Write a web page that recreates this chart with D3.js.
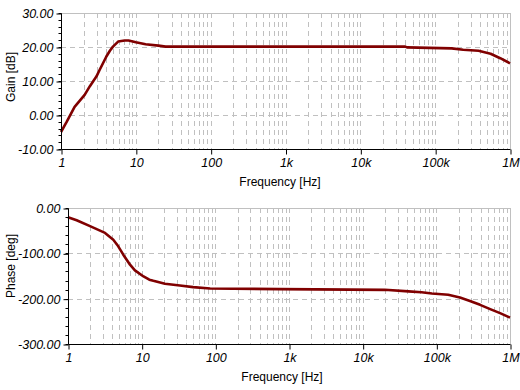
<!DOCTYPE html>
<html><head><meta charset="utf-8">
<script src="https://cdn.jsdelivr.net/npm/d3@7"></script>
<style>
body{margin:0;background:#fff;}
svg{display:block;}
text{font-family:"Liberation Sans",Arial,sans-serif;fill:#000;}
</style></head>
<body><svg id="c" width="520" height="390"></svg>
<script>
const xTickValues = [1, 10, 100, 1e3, 1e4, 1e5, 1e6];
const xTickLabels = ["1", "10", "100", "1k", "10k", "100k", "1M"];
const gainTicks = [-10, 0, 10, 20, 30];
const phaseTicks = [-300, -200, -100, 0];

const gainFreq = [1, 1.18, 1.52, 2.07, 2.42, 2.97, 3.29, 4.04, 4.5, 4.95, 5.8, 7.1, 8, 10, 13.5, 20, 25, 1e3, 4e4, 4.2e4, 1.66e5, 2.37e5, 3.8e5, 5.5e5, 7.4e5, 1e6];
const gainDb =   [-5.0, -2.2, 2.4, 5.9, 8.4, 11.3, 13.3, 17.2, 18.9, 20.1, 21.6, 21.9, 21.9, 21.4, 20.8, 20.4, 20.1, 20.1, 20.1, 19.9, 19.6, 19.2, 18.9, 18.0, 16.7, 15.2];

const phaseFreq = [1, 1.31, 1.99, 3.18, 4.12, 4.81, 5.63, 6.95, 8.1, 10.6, 12.7, 14.4, 20.7, 33, 50, 85, 755, 2e4, 4.18e4, 6.3e4, 8.7e4, 1.45e5, 2.09e5, 2.86e5, 3.93e5, 5.38e5, 7.33e5, 1e6];
const phaseDeg =  [-20.4, -27, -40, -55, -70, -84.5, -103, -125, -137.7, -151, -158, -160.5, -167, -171, -174.5, -177.5, -179, -180.5, -184, -186, -188.5, -191.5, -197.5, -205, -213.6, -223, -232, -241.8];

const svg = d3.select("#c");
const gridColor = "#c0c0c0";
const lineColor = "#800000";

function panel(o) {
  const x = d3.scaleLog().domain([1, 1e6]).range([o.left, o.right]);
  const y = d3.scaleLinear().domain(o.domain).range([o.bottom, o.top]);
  const g = svg.append("g");
  const vg = [];
  for (let e = 0; e < 6; e++) for (let m = 1; m <= 9; m++) {
    const v = m * Math.pow(10, e);
    if (v > 1 && v < 1e6) vg.push(v);
  }
  g.selectAll(".vg").data(vg).enter().append("line")
    .attr("x1", d => Math.round(x(d)) + 0.5).attr("x2", d => Math.round(x(d)) + 0.5)
    .attr("y1", o.top).attr("y2", o.bottom)
    .attr("stroke", gridColor).attr("stroke-dasharray", "5,4");
  const hg = o.ticks.filter(t => t !== o.domain[0] && t !== o.domain[1]);
  g.selectAll(".hg").data(hg).enter().append("line")
    .attr("x1", o.left).attr("x2", o.right)
    .attr("y1", d => Math.round(y(d)) + 0.5).attr("y2", d => Math.round(y(d)) + 0.5)
    .attr("stroke", gridColor).attr("stroke-dasharray", "5,4");
  g.append("line").attr("x1", o.left).attr("x2", o.right + 0.5)
    .attr("y1", o.top + 0.5).attr("y2", o.top + 0.5).attr("stroke", gridColor);
  g.append("line").attr("x1", o.right + 0.5).attr("x2", o.right + 0.5)
    .attr("y1", o.top).attr("y2", o.bottom).attr("stroke", gridColor);

  const line = d3.line().x((d, i) => x(o.fx[i])).y((d, i) => y(o.fy[i])).curve(d3.curveLinear);
  g.append("path").datum(o.fy).attr("d", line)
    .attr("fill", "none").attr("stroke", lineColor).attr("stroke-width", 2.6)
    .attr("stroke-linejoin", "round");

  const step = (o.ticks[1] - o.ticks[0]) / 5;
  const minor = d3.range(o.domain[0], o.domain[1] + step / 2, step);
  const ya = d3.axisLeft(y).tickValues(o.ticks).tickSize(5).tickPadding(3)
    .tickFormat(d => d.toFixed(2));
  const yag = g.append("g").attr("transform", `translate(${o.left + 0.5},0.5)`).call(ya);
  yag.selectAll(".minor").data(minor).enter().append("line").attr("class", "minor")
    .attr("x1", -3).attr("x2", 0).attr("y1", d => Math.round(y(d))).attr("y2", d => Math.round(y(d)))
    .attr("stroke", "#000");
  yag.selectAll("text").style("font-style", "italic").style("font-size", "12.5px");
  yag.select(".domain").attr("d", `M0,${o.top}V${o.bottom}`);

  const xa = d3.axisBottom(x).tickValues(xTickValues).tickSize(5).tickPadding(4)
    .tickFormat((d, i) => xTickLabels[i]);
  const xag = g.append("g").attr("transform", `translate(0.5,${o.bottom + 0.5})`).call(xa);
  xag.select(".domain").attr("d", `M${o.left},0H${o.right}`);
  xag.selectAll("text").style("font-style", "italic").style("font-size", "12.5px");
  g.selectAll(".tick line").attr("stroke", "#000");
  g.selectAll(".domain").attr("stroke", "#000");

  g.append("text").attr("x", o.xTitleX).attr("y", o.bottom + 37).attr("text-anchor", "middle")
    .style("font-size", "12px").text("Frequency [Hz]");
  g.append("text").attr("transform", `translate(15,${o.yTitleY}) rotate(-90)`).attr("text-anchor", "middle")
    .style("font-size", "12px").text(o.yTitle);
}

panel({left: 61, right: 510, top: 13, bottom: 149, domain: [-10, 30], ticks: gainTicks,
  fx: gainFreq, fy: gainDb, yTitle: "Gain [dB]", yTitleY: 77, xTitleX: 280});
panel({left: 68, right: 510, top: 208, bottom: 344, domain: [-300, 0], ticks: phaseTicks,
  fx: phaseFreq, fy: phaseDeg, yTitle: "Phase [deg]", yTitleY: 266, xTitleX: 282});
</script></body></html>
